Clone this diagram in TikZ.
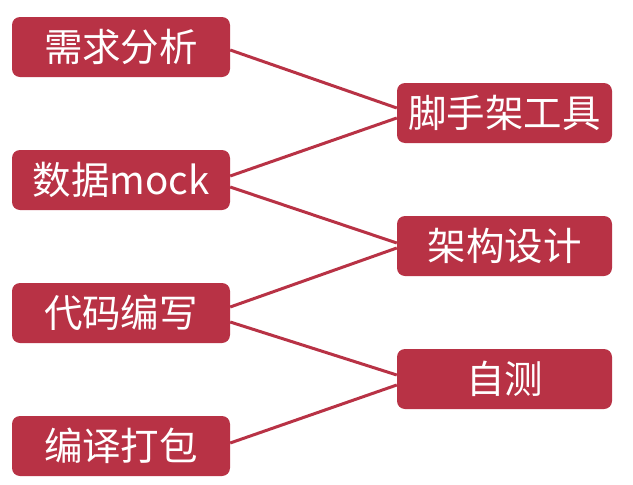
\documentclass[tikz,border=0pt]{standalone}
\usepackage{fontspec}
\newfontfamily\cjk{Noto Sans CJK SC}
\definecolor{boxred}{HTML}{B83245}
\begin{document}
\begin{tikzpicture}[x=1pt,y=-1pt,
  leftbox/.style={fill=boxred,rounded corners=8pt,minimum width=218pt,minimum height=60pt,inner sep=0pt,text=white,font=\cjk\fontsize{38.5}{42}\selectfont},
  rightbox/.style={leftbox,minimum width=215pt},
  link/.style={draw=boxred,line width=3pt}]
\useasboundingbox (0,0) rectangle (633,485);
\node[leftbox] (l1) at (121,47) {需求分析};
\node[leftbox] (l2) at (121,180) {数据mock};
\node[leftbox] (l3) at (121,313) {代码编写};
\node[leftbox] (l4) at (121,446) {编译打包};
\node[rightbox] (r1) at (504.5,113) {脚手架工具};
\node[rightbox] (r2) at (504.5,246) {架构设计};
\node[rightbox] (r3) at (504.5,379) {自测};
\draw[link] ([yshift=-3pt]l1.east) -- ([yshift=5pt]r1.west);
\draw[link] ([yshift=4pt]l2.east) -- ([yshift=-5pt]r1.west);
\draw[link] ([yshift=-7pt]l2.east) -- ([yshift=3pt]r2.west);
\draw[link] ([yshift=6pt]l3.east) -- ([yshift=-2pt]r2.west);
\draw[link] ([yshift=-9pt]l3.east) -- ([yshift=4pt]r3.west);
\draw[link] ([yshift=3pt]l4.east) -- ([yshift=-6pt]r3.west);
\end{tikzpicture}
\end{document}
